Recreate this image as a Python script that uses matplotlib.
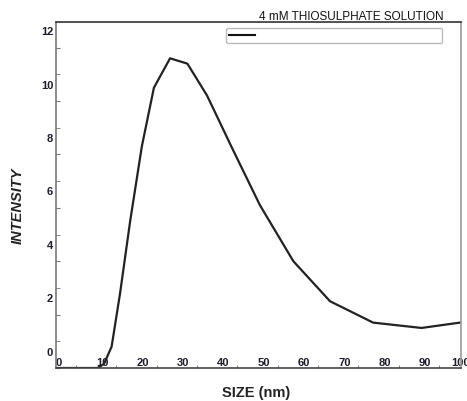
import numpy as np
import matplotlib.pyplot as plt
import matplotlib.transforms as mtransforms
from matplotlib.lines import Line2D

plt.rcParams['font.family'] = ['Liberation Sans', 'DejaVu Sans']

# DLS size distribution
size_nm = [0.0, 10.3, 11.9, 13.8, 15.9, 18.4, 21.3, 24.3, 28.3, 32.6, 37.5,
           43.5, 50.6, 58.9, 68.0, 78.7, 90.7, 105.0]
intensity = [0.0, 0.0, 0.15, 0.8, 2.8, 5.5, 8.3, 10.5, 11.6, 11.4, 10.2,
             8.3, 6.1, 4.0, 2.5, 1.7, 1.5, 1.8]

x_ticks = list(range(0, 101, 10))
y_ticks = list(range(0, 13, 2))
title = '4 mM THIOSULPHATE SOLUTION'

fig = plt.figure(figsize=(4.67, 4.01), dpi=100)
ax = fig.add_axes([56/467, 1 - 368/401, 405/467, 346/401])

line, = ax.plot(size_nm, intensity, color='#222222', lw=1.6)
ax.set_xlim(0, 100.5)
ax.set_ylim(0, 12.96)

for side, c in [('top', '#333333'), ('bottom', '#444444'), ('left', '#777777'), ('right', '#999999')]:
    ax.spines[side].set_color(c)
    ax.spines[side].set_linewidth(1.2)

# x axis: labels inside, left aligned on the tick
ax.set_xticks(x_ticks)
ax.set_xticks(np.arange(5, 100, 10), minor=True)
ax.tick_params(axis='x', which='major', direction='in', length=0, pad=-7,
               labelsize=8, labelcolor='#1c1c2c')
ax.tick_params(axis='x', which='minor', direction='in', length=2, color='#666666')
for lab in ax.get_xticklabels():
    lab.set_ha('left')
    lab.set_fontweight('bold')
# last label sits partly past the figure edge, as in the original
last = ax.get_xticklabels()[-1]
last.set_transform(last.get_transform() +
                   mtransforms.ScaledTranslation(-0.08, 0, fig.dpi_scale_trans))

# y axis: tick at each unit, labels on even values shifted upward
ax.set_yticks(y_ticks)
ax.set_yticklabels([str(v) for v in y_ticks])
ax.set_yticks(np.arange(1, 13, 2), minor=True)
ax.tick_params(axis='y', which='both', direction='in', length=3, color='#777777')
ax.tick_params(axis='y', which='major', pad=2, labelsize=8, labelcolor='#1c1c2c')
offset = mtransforms.ScaledTranslation(0, 0.165, fig.dpi_scale_trans)
for lab in ax.get_yticklabels():
    lab.set_fontweight('bold')
    lab.set_transform(lab.get_transform() + offset)

leg = ax.legend([Line2D([], [], color='#111111', lw=1.5)], [' '],
                loc='lower left', bbox_to_anchor=(0.42, 0.939, 0.533, 0.041),
                mode='expand', borderaxespad=0, fontsize=7, borderpad=0.25,
                handlelength=2.7, fancybox=True, framealpha=1)
leg.get_frame().set_edgecolor('#bbbbbb')
leg.get_frame().set_linewidth(1.0)

fig.text(351/467, 1 - 17.5/401, title, ha='center', va='center',
         fontsize=8.5, color='#111111')
fig.text(256/467, 1 - 393/401, 'SIZE (nm)', ha='center', va='center',
         fontsize=10.5, fontweight='bold', color='#222222')
fig.text(18/467, 1 - 206/401, 'INTENSITY', ha='center', va='center',
         rotation=90, fontsize=10.5, fontweight='bold', fontstyle='italic',
         color='#222222')

fig.savefig('out.png', dpi=100)
